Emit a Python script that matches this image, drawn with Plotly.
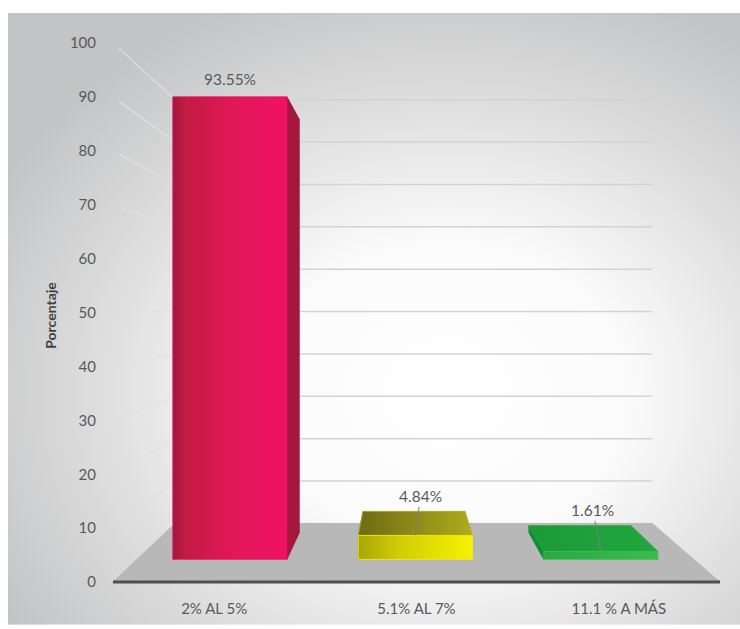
import base64
import plotly.graph_objects as go

# ---- data ----
categories = ["2% AL 5%", "5.1% AL 7%", "11.1 % A MÁS"]
values = [93.55, 4.84, 1.61]
value_labels = ["93.55%", "4.84%", "1.61%"]
y_ticks = list(range(0, 101, 10))
y_title = "Porcentaje"

# ---- page geometry (pixels) ----
W, H = 740, 629
FLOOR_FRONT_Y = 586      # value 0 on the front plane
TOP_FRONT_Y = 43         # value 100 on the front plane
FLOOR_LEFT_X, FLOOR_RIGHT_X = 113, 720
PLOT_L, PLOT_R, PLOT_T, PLOT_B = 105, 12, 36, 30
CHART_BOX = (8, 13, 740, 629)   # panel with the shaded background

px_per_val = (FLOOR_FRONT_Y - TOP_FRONT_Y) / 100.0
px_per_cat = (FLOOR_RIGHT_X - FLOOR_LEFT_X) / len(categories)

plot_w = W - PLOT_L - PLOT_R
plot_h = H - PLOT_T - PLOT_B
x_min = -0.5 - (FLOOR_LEFT_X - PLOT_L) / px_per_cat
x_max = x_min + plot_w / px_per_cat
y_min = -((H - PLOT_B) - FLOOR_FRONT_Y) / px_per_val
y_max = y_min + plot_h / px_per_val

# ---- simple perspective: points shrink toward a vanishing point with depth ----
VX = (403 - FLOOR_LEFT_X) / px_per_cat - 0.5     # vanishing point, category units
VV = (FLOOR_FRONT_Y - 310) / px_per_val          # vanishing point, value units
K_FRONT, K_BAR_FRONT, K_BAR_BACK, K_WALL = 1.0, 0.917, 0.82, 0.786
BAR_WIDTH = 0.615


def project(x, v, k):
    return VX + (x - VX) * k, VV + (v - VV) * k


def face(points, **style):
    xs, ys = zip(*[project(*p) for p in points])
    xs, ys = list(xs) + [xs[0]], list(ys) + [ys[0]]
    return go.Scatter(x=xs, y=ys, mode="lines", fill="toself", hoverinfo="skip",
                      showlegend=False, **style)


def seg(p, q, color, width):
    (x0, y0), (x1, y1) = project(*p), project(*q)
    return go.Scatter(x=[x0, x1], y=[y0, y1], mode="lines", hoverinfo="skip",
                      showlegend=False, line=dict(color=color, width=width))


fig = go.Figure()

x_lo, x_hi = -0.5, len(categories) - 0.5

# floor
fig.add_trace(face([(x_lo, 0, K_FRONT), (x_hi, 0, K_FRONT), (x_hi, 0, K_WALL), (x_lo, 0, K_WALL)],
                   fillcolor="#b8b8b8", line=dict(color="#b8b8b8", width=1)))

# back-wall and side-wall gridlines
for v in y_ticks[1:]:
    fig.add_trace(seg((x_lo, v, K_WALL), (x_hi, v, K_WALL), "#d3d3d3", 1.6))
    fig.add_trace(seg((x_lo, v, K_FRONT - 0.02), (x_lo, v, K_WALL), "rgba(225,225,225,0.8)", 1.4))

# front edge of the floor
fig.add_trace(seg((x_lo, 0, K_FRONT), (x_hi, 0, K_FRONT), "#4f4f4f", 3))

bar_styles = [
    dict(front=[[0, "#a0193a"], [0.12, "#c31b42"], [0.55, "#e3175a"], [1, "#ef1262"]],
         top=[[0, "#b0183e"], [1, "#d01650"]], side="#a5173c"),
    dict(front=[[0, "#a9a60a"], [0.35, "#d0cc06"], [1, "#f7f200"]],
         top=[[0, "#6d6b14"], [1, "#aeac1e"]], side="#8a870e"),
    dict(front=[[0, "#2aa845"], [1, "#3abd4f"]],
         top=[[0, "#1c9a39"], [1, "#22a63d"]], side="#178a36"),
]

for i, (v, st) in enumerate(zip(values, bar_styles)):
    x0, x1 = i - BAR_WIDTH / 2, i + BAR_WIDTH / 2
    sx = x1 if i < VX else x0
    fig.add_trace(face([(sx, 0, K_BAR_FRONT), (sx, v, K_BAR_FRONT), (sx, v, K_BAR_BACK), (sx, 0, K_BAR_BACK)],
                       fillcolor=st["side"], line=dict(color=st["side"], width=1)))
    if v < VV:
        fig.add_trace(face([(x0, v, K_BAR_FRONT), (x1, v, K_BAR_FRONT), (x1, v, K_BAR_BACK), (x0, v, K_BAR_BACK)],
                           fillgradient=dict(type="horizontal", colorscale=st["top"]),
                           line=dict(color=st["top"][-1][1], width=0.8)))
    fig.add_trace(face([(x0, 0, K_BAR_FRONT), (x1, 0, K_BAR_FRONT), (x1, v, K_BAR_FRONT), (x0, v, K_BAR_FRONT)],
                       fillgradient=dict(type="horizontal", colorscale=st["front"]),
                       line=dict(color=st["front"][-1][1], width=0.8)))

# value labels (with leader lines for the short bars)
LABEL_FONT = dict(family="Lato", size=15.5, color="#595959")
label_offsets = [(0, -18, False), (5, -39, True), (-8, -41, True)]
for i, (v, txt, (ax, ay, arrow)) in enumerate(zip(values, value_labels, label_offsets)):
    lx, ly = project(i, v, K_BAR_FRONT)
    if arrow:
        fig.add_annotation(x=lx, y=ly, text=txt, showarrow=True, ax=ax, ay=ay,
                           arrowhead=0, arrowwidth=1, arrowcolor="#7f7f7f", standoff=0,
                           font=LABEL_FONT)
    else:
        fig.add_annotation(x=lx, y=ly, text=txt, showarrow=False, yshift=-ay, font=LABEL_FONT)

# shaded panel behind the chart
bx0, by0, bx1, by1 = CHART_BOX
bw, bh = bx1 - bx0, by1 - by0
svg = f"""<svg xmlns='http://www.w3.org/2000/svg' width='{bw}' height='{bh}'>
<defs><radialGradient id='g' cx='0.6' cy='0.62' r='0.7'>
<stop offset='0' stop-color='#ffffff'/><stop offset='0.35' stop-color='#fbfbfb'/>
<stop offset='0.68' stop-color='#dedede'/><stop offset='1' stop-color='#c3c4c6'/>
</radialGradient></defs>
<rect width='{bw}' height='{bh}' fill='url(#g)'/>
<line x1='0' y1='0.5' x2='{bw}' y2='0.5' stroke='#c0c0c0' stroke-width='1.5'/>
</svg>"""
src = "data:image/svg+xml;base64," + base64.b64encode(svg.encode()).decode()
fig.add_layout_image(source=src, xref="paper", yref="paper",
                     x=(bx0 - PLOT_L) / plot_w, y=((H - PLOT_B) - by0) / plot_h,
                     sizex=bw / plot_w, sizey=bh / plot_h,
                     xanchor="left", yanchor="top", sizing="stretch", layer="below")

TICK_FONT = dict(family="Lato", size=15, color="#595959")
fig.update_layout(
    width=W, height=H,
    margin=dict(l=PLOT_L, r=PLOT_R, t=PLOT_T, b=PLOT_B),
    paper_bgcolor="white", plot_bgcolor="rgba(0,0,0,0)",
    showlegend=False,
    font=dict(family="Lato", color="#595959"),
    xaxis=dict(range=[x_min, x_max], tickvals=list(range(len(categories))), ticktext=categories,
               showgrid=False, zeroline=False, showline=False, ticks="",
               tickfont=TICK_FONT, ticklabelstandoff=3, fixedrange=True),
    yaxis=dict(range=[y_min, y_max], tickvals=y_ticks, showgrid=False, zeroline=False,
               showline=False, ticks="", tickfont=TICK_FONT,
               ticklabelstandoff=8, fixedrange=True,
               title=dict(text=f"<b>{y_title}</b>", standoff=9,
                          font=dict(family="Lato", size=14, color="#404040"))),
)

fig.write_html("out.html")
